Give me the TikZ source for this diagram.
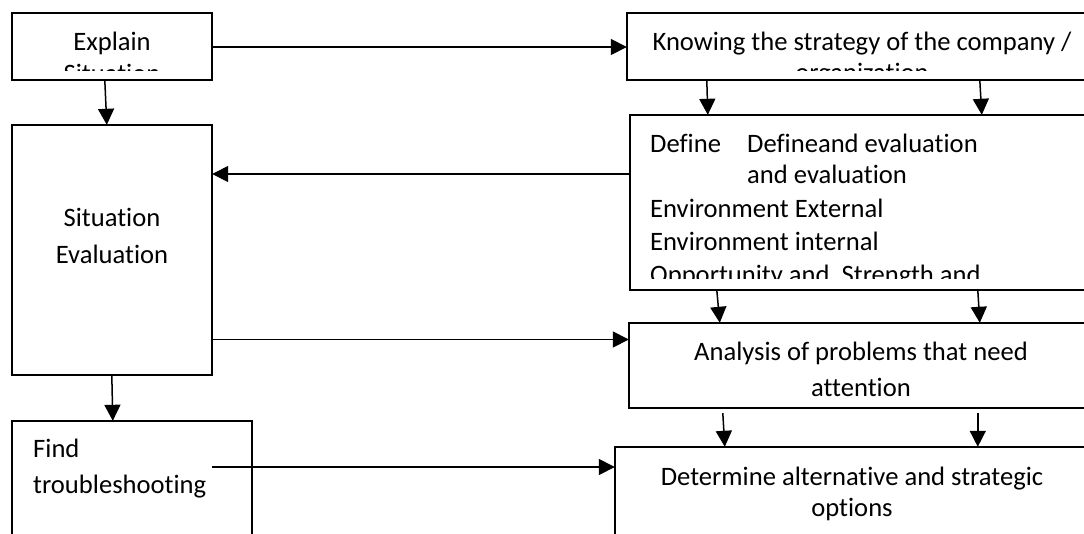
\documentclass[tikz,border=0pt]{standalone}
\usepackage{fontspec}
\setmainfont{Carlito}[Ligatures={NoCommon}]
\usetikzlibrary{arrows.meta}
\tikzset{
  box/.style={draw, line width=1.9pt, rectangle},
  frame/.style={inner sep=0pt},
  arr/.style={line width=1.5pt, -{Triangle[length=16pt,width=16pt]}},
  txt/.style={anchor=base, inner sep=0pt, font=\fontsize{26.6}{32}\selectfont},
  ltxt/.style={anchor=base west, inner sep=0pt, font=\fontsize{26.6}{32}\selectfont},
}
\begin{document}
\begin{tikzpicture}[x=1pt, y=-1pt]
\useasboundingbox (0,0) rectangle (1084,533);
\clip (0,0) rectangle (1084,533);

% boxes
\draw[box] (12,13) rectangle (212,80);
\node[frame, minimum width=200pt, minimum height=67pt] (explain) at (112,46.5) {};
\draw[box] (12,125) rectangle (212,375);
\node[frame, minimum width=200pt, minimum height=250pt] (sitev) at (112,250) {};
\draw[box] (627,13) rectangle (1100,80);
\node[frame, minimum width=473pt, minimum height=67pt] (know) at (863.5,46.5) {};
\draw[box] (630,115) rectangle (1100,290);
\node[frame, minimum width=470pt, minimum height=175pt] (define) at (865,202.5) {};
\draw[box] (629,323) rectangle (1100,408);
\node[frame, minimum width=471pt, minimum height=85pt] (analysis) at (864.5,365.5) {};
\draw[box] (615,447) rectangle (1100,570);
\node[frame, minimum width=485pt, minimum height=123pt] (determine) at (857.5,508.5) {};
\draw[box] (12,421) rectangle (252,570);
\node[frame, minimum width=240pt, minimum height=149pt] (find) at (132,495.5) {};

% texts, clipped inside their boxes where they overflow
\begin{scope}
  \clip (12,13) rectangle (212,70);
  \node[txt] (t1a) at (112,50) {Explain};
  \node[txt] (t1b) at (112,82) {Situation};
\end{scope}
\node[txt] (t2a) at (112,226) {Situation};
\node[txt] (t2b) at (112,263) {Evaluation};
\begin{scope}
  \clip (627,13) rectangle (1100,70);
  \node[txt] (t3a) at (862,50) {Knowing the strategy of the company /};
  \node[txt] (t3b) at (862,81) {organization};
\end{scope}
\begin{scope}
  \clip (630,115) rectangle (1100,278);
  \node[ltxt] (t4a) at (650,152) {Define};
  \node[ltxt] (t4b) at (747,152) {Defineand evaluation};
  \node[ltxt] (t4c) at (747,183) {and evaluation};
  \node[ltxt] (t4d) at (650,217) {Environment External};
  \node[ltxt] (t4e) at (650,250) {Environment internal};
  \node[ltxt] (t4f) at (650,283) {Opportunity and\ \ Strength and};
\end{scope}
\node[txt] (t5a) at (861,360) {Analysis of problems that need};
\node[txt] (t5b) at (861,396) {attention};
\node[txt] (t6a) at (852,485) {Determine alternative and strategic};
\node[txt] (t6b) at (852,516) {options};
\node[ltxt] (t7a) at (33,457) {Find};
\node[ltxt] (t7b) at (33,493) {troubleshooting};

% connectors
\draw[arr] (explain.east |- 0,47) -- (know.west |- 0,47);
\draw[arr] ([xshift=93pt]explain.south west) -- ([xshift=95pt]sitev.north west);
\draw[arr] ([xshift=80pt]know.south west) -- ([xshift=78pt]define.north west);
\draw[arr] ([xshift=353pt]know.south west) -- ([xshift=352pt]define.north west);
\draw[arr] (define.west |- 0,174) -- (sitev.east |- 0,174);
\draw[arr] (sitev.east |- 0,339.5) -- (analysis.west |- 0,339.5);
\draw[arr] ([xshift=87pt]define.south west) -- ([xshift=91pt]analysis.north west);
\draw[arr] ([xshift=348pt]define.south west) -- ([xshift=351pt]analysis.north west);
\draw[arr] ([xshift=100pt]sitev.south west) -- ([xshift=101pt]find.north west);
\coordinate (a8s) at ([xshift=94pt,yshift=-5pt]analysis.south west);
\coordinate (a9s) at ([xshift=349pt,yshift=-5pt]analysis.south west);
\draw[arr] (a8s) -- ([xshift=110pt]determine.north west);
\draw[arr] (a9s) -- ([xshift=363pt]determine.north west);
\coordinate (findout) at (212,467);
\draw[arr] (findout) -- (determine.west |- findout);
\end{tikzpicture}
\end{document}
